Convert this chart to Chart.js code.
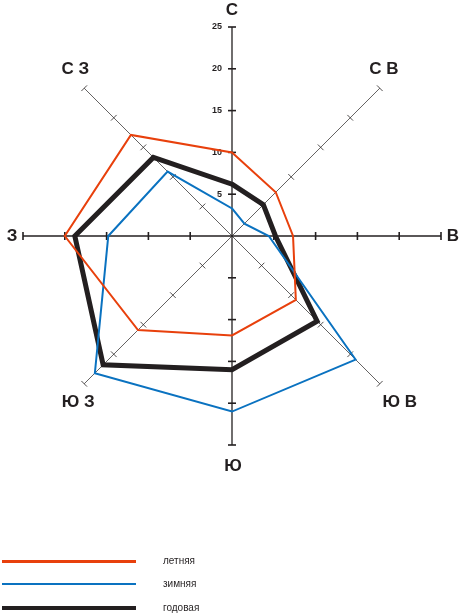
<!DOCTYPE html>
<html>
<head>
<meta charset="utf-8">
<script src="https://cdn.jsdelivr.net/npm/chart.js@4"></script>
<style>
  body { margin: 0; background: #fff; }
  #wrap { position: relative; width: 463px; height: 616px; }
  #myChart { position: absolute; left: 0; top: 0; }
  .lg { position: absolute; left: 2px; width: 134px; }
  .lt { position: absolute; left: 163px; font: 10px "Liberation Sans", Arial, sans-serif; color: #231f20; line-height: 10px; }
</style>
</head>
<body>
<div id="wrap">
  <canvas id="myChart" width="463" height="616"></canvas>
  <div class="lg" style="top:560px;height:3px;background:#e8400c"></div>
  <div class="lt" style="top:556px">летняя</div>
  <div class="lg" style="top:583px;height:2px;background:#0a72c0"></div>
  <div class="lt" style="top:579px">зимняя</div>
  <div class="lg" style="top:606px;height:4px;background:#231f20"></div>
  <div class="lt" style="top:603px">годовая</div>
</div>
<script>
var directions = ["С", "С В", "В", "Ю В", "Ю", "Ю З", "З", "С З"];
var tickValues = [5, 10, 15, 20, 25];
var summerValues = [10, 7.4, 7.3, 10.8, 11.9, 15.9, 20, 17.1];
var winterValues = [3.3, 2.1, 4.4, 20.9, 21, 23.2, 14.8, 10.9];
var annualValues = [6.2, 5.3, 5.2, 14.4, 16, 21.8, 18.8, 13.3];
var seriesNames = ["летняя", "зимняя", "годовая"];

// label offsets from the end of each axis
var labelShift = [[0, -17], [4, -19], [12, 0], [20, 19], [1, 21], [-6, 19], [-11, 0], [-9, -19]];

var axisMarks = {
  id: "axisMarks",
  beforeDatasetsDraw: function(chart) {
    var ctx = chart.ctx;
    var r = chart.scales.r;
    ctx.save();
    ctx.strokeStyle = "#231f20";
    for (var i = 0; i < directions.length; i++) {
      var main = i % 2 === 0;
      ctx.lineWidth = main ? 1.6 : 0.8;
      for (var k = 0; k < tickValues.length; k++) {
        var p = r.getPointPositionForValue(i, tickValues[k]);
        var dx = p.x - r.xCenter, dy = p.y - r.yCenter;
        var len = Math.sqrt(dx * dx + dy * dy);
        var nx = -dy / len * 4, ny = dx / len * 4;
        ctx.beginPath();
        ctx.moveTo(p.x - nx, p.y - ny);
        ctx.lineTo(p.x + nx, p.y + ny);
        ctx.stroke();
      }
    }
    // tick labels on the north axis
    ctx.fillStyle = "#231f20";
    ctx.font = "bold 9px 'Liberation Sans', Arial, sans-serif";
    ctx.textAlign = "right";
    ctx.textBaseline = "middle";
    for (var k = 0; k < tickValues.length; k++) {
      var q = r.getPointPositionForValue(0, tickValues[k]);
      ctx.fillText(String(tickValues[k]), q.x - 10, q.y);
    }
    ctx.restore();
  },
  afterDraw: function(chart) {
    var ctx = chart.ctx;
    var r = chart.scales.r;
    ctx.save();
    ctx.fillStyle = "#231f20";
    ctx.font = "bold 17px 'Liberation Sans', Arial, sans-serif";
    ctx.textAlign = "center";
    ctx.textBaseline = "middle";
    for (var i = 0; i < directions.length; i++) {
      var p = r.getPointPositionForValue(i, 25);
      ctx.fillText(directions[i], p.x + labelShift[i][0], p.y + labelShift[i][1]);
    }
    ctx.restore();
  }
};

new Chart("myChart", {
  type: "radar",
  data: {
    labels: directions,
    datasets: [{
      label: seriesNames[0],
      data: summerValues,
      borderColor: "#e8400c",
      borderWidth: 2,
      fill: false
    }, {
      label: seriesNames[1],
      data: winterValues,
      borderColor: "#0a72c0",
      borderWidth: 2,
      fill: false
    }, {
      label: seriesNames[2],
      data: annualValues,
      borderColor: "#231f20",
      borderWidth: 5,
      fill: false
    }]
  },
  plugins: [axisMarks],
  options: {
    responsive: false,
    animation: false,
    devicePixelRatio: 1,
    layout: { padding: { left: 23, right: 22, top: 27, bottom: 171 } },
    elements: {
      point: { radius: 0, hoverRadius: 0 },
      line: { tension: 0, borderJoinStyle: "miter" }
    },
    plugins: {
      legend: { display: false },
      tooltip: { enabled: false }
    },
    scales: {
      r: {
        min: 0,
        max: 25,
        ticks: { display: false, stepSize: 5 },
        grid: { display: false },
        pointLabels: { display: false },
        angleLines: {
          display: true,
          color: "#231f20",
          lineWidth: function(c) { return c.index % 2 === 0 ? 1.3 : 0.7; }
        }
      }
    }
  }
});
</script>
</body>
</html>
